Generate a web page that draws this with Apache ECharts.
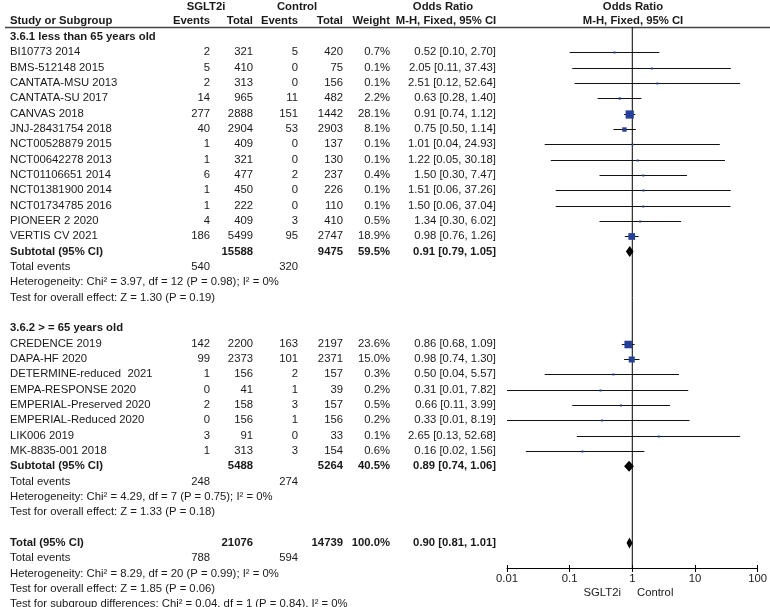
<!DOCTYPE html>
<html><head><meta charset="utf-8">
<script src="https://cdn.jsdelivr.net/npm/echarts@6/dist/echarts.min.js"></script>
<style>html,body{margin:0;padding:0;background:#fff}#c{width:770px;height:607px}</style>
</head><body><div id="c"></div>
<script>
// ---------- DATA ----------
const g1Title = '3.6.1 less than 65 years old';
const g1Study = ['BI10773 2014','BMS-512148 2015','CANTATA-MSU 2013','CANTATA-SU 2017','CANVAS 2018','JNJ-28431754 2018','NCT00528879 2015','NCT00642278 2013','NCT01106651 2014','NCT01381900 2014','NCT01734785 2016','PIONEER 2 2020','VERTIS CV 2021'];
const g1ExpEvents = [2,5,2,14,277,40,1,1,6,1,1,4,186];
const g1ExpTotal = [321,410,313,965,2888,2904,409,321,477,450,222,409,5499];
const g1CtlEvents = [5,0,0,11,151,53,0,0,2,0,0,3,95];
const g1CtlTotal = [420,75,156,482,1442,2903,137,130,237,226,110,410,2747];
const g1Weight = [0.7,0.1,0.1,2.2,28.1,8.1,0.1,0.1,0.4,0.1,0.1,0.5,18.9];
const g1OR = [0.52,2.05,2.51,0.63,0.91,0.75,1.01,1.22,1.50,1.51,1.50,1.34,0.98];
const g1Lo = [0.10,0.11,0.12,0.28,0.74,0.50,0.04,0.05,0.30,0.06,0.06,0.30,0.76];
const g1Hi = [2.70,37.43,52.64,1.40,1.12,1.14,24.93,30.18,7.47,37.26,37.04,6.02,1.26];

const g2Title = '3.6.2 > = 65 years old';
const g2Study = ['CREDENCE 2019','DAPA-HF 2020','DETERMINE-reduced  2021','EMPA-RESPONSE 2020','EMPERIAL-Preserved 2020','EMPERIAL-Reduced 2020','LIK006 2019','MK-8835-001 2018'];
const g2ExpEvents = [142,99,1,0,2,0,3,1];
const g2ExpTotal = [2200,2373,156,41,158,156,91,313];
const g2CtlEvents = [163,101,2,1,3,1,0,3];
const g2CtlTotal = [2197,2371,157,39,157,156,33,154];
const g2Weight = [23.6,15.0,0.3,0.2,0.5,0.2,0.1,0.6];
const g2OR = [0.86,0.98,0.50,0.31,0.66,0.33,2.65,0.16];
const g2Lo = [0.68,0.74,0.04,0.01,0.11,0.01,0.13,0.02];
const g2Hi = [1.09,1.30,5.57,7.82,3.99,8.19,52.68,1.56];

const subExpTotal = [15588, 5488];
const subCtlTotal = [9475, 5264];
const subWeight = [59.5, 40.5];
const subOR = [0.91, 0.89];
const subLo = [0.79, 0.74];
const subHi = [1.05, 1.06];
const subExpEvents = [540, 248];
const subCtlEvents = [320, 274];
const subHeterogeneity = ['Heterogeneity: Chi² = 3.97, df = 12 (P = 0.98); I² = 0%', 'Heterogeneity: Chi² = 4.29, df = 7 (P = 0.75); I² = 0%'];
const subOverall = ['Test for overall effect: Z = 1.30 (P = 0.19)', 'Test for overall effect: Z = 1.33 (P = 0.18)'];

const totExpTotal = 21076, totCtlTotal = 14739, totWeight = 100.0;
const totOR = 0.90, totLo = 0.81, totHi = 1.01;
const totExpEvents = 788, totCtlEvents = 594;
const totHeterogeneity = 'Heterogeneity: Chi² = 8.29, df = 20 (P = 0.99); I² = 0%';
const totOverall = 'Test for overall effect: Z = 1.85 (P = 0.06)';
const totSubgroup = 'Test for subgroup differences: Chi² = 0.04, df = 1 (P = 0.84), I² = 0%';

const tickLabels = ['0.01','0.1','1','10','100'];
const favourLabels = ['SGLT2i','Control'];

// ---------- BUILD ROWS ----------
const rows = [];
function addGroup(title, st, ee, et, ce, ct, w, or, lo, hi, k) {
  rows.push({kind:'heading', label:title});
  st.forEach((s,i)=>rows.push({kind:'study', label:s, ee:ee[i], et:et[i], ce:ce[i], ct:ct[i], w:w[i], or:or[i], lo:lo[i], hi:hi[i]}));
  rows.push({kind:'sub', label:'Subtotal (95% CI)', et:subExpTotal[k], ct:subCtlTotal[k], w:subWeight[k], or:subOR[k], lo:subLo[k], hi:subHi[k]});
  rows.push({kind:'events', label:'Total events', ee:subExpEvents[k], ce:subCtlEvents[k]});
  rows.push({kind:'text', label:subHeterogeneity[k]});
  rows.push({kind:'text', label:subOverall[k]});
  rows.push({kind:'blank'});
}
addGroup(g1Title,g1Study,g1ExpEvents,g1ExpTotal,g1CtlEvents,g1CtlTotal,g1Weight,g1OR,g1Lo,g1Hi,0);
addGroup(g2Title,g2Study,g2ExpEvents,g2ExpTotal,g2CtlEvents,g2CtlTotal,g2Weight,g2OR,g2Lo,g2Hi,1);
rows.push({kind:'sub', label:'Total (95% CI)', et:totExpTotal, ct:totCtlTotal, w:totWeight, or:totOR, lo:totLo, hi:totHi});
rows.push({kind:'events', label:'Total events', ee:totExpEvents, ce:totCtlEvents});
rows.push({kind:'text', label:totHeterogeneity});
rows.push({kind:'text', label:totOverall});
rows.push({kind:'text', label:totSubgroup});

// ---------- LAYOUT ----------
const ROW0 = 37, ROWH = 15.33, GTOP = 27, GBOT = 568;
const yMin = (GTOP - ROW0) / ROWH, yMax = (GBOT - ROW0) / ROWH;
const FONT = '"Liberation Sans", Arial, sans-serif';
const FS = 11.3;
const TXT = '#1a1a1a';
const COL = {label:10, ee:210, et:253, ce:298, ct:343, w:390, or:496};
const fmtCI = r => `${r.or.toFixed(2)} [${r.lo.toFixed(2)}, ${r.hi.toFixed(2)}]`;

function txt(t, x, y, align, bold) {
  return {type:'text', silent:true, style:{text:String(t), x:x, y:y, textAlign:align, textVerticalAlign:'middle', fill:TXT, fontSize:FS, fontFamily:FONT, fontWeight: bold ? 'bold' : 'normal'}};
}

const chart = echarts.init(document.getElementById('c'), null, {renderer:'canvas'});

const hdrY1 = 7, hdrY2 = 21;
const headerGraphics = [
  txt('SGLT2i', 206, hdrY1, 'center', true),
  txt('Control', 297, hdrY1, 'center', true),
  txt('Odds Ratio', 443, hdrY1, 'center', true),
  txt('Odds Ratio', 633, hdrY1, 'center', true),
  txt('Study or Subgroup', COL.label, hdrY2, 'left', true),
  txt('Events', COL.ee, hdrY2, 'right', true),
  txt('Total', COL.et, hdrY2, 'right', true),
  txt('Events', COL.ce, hdrY2, 'right', true),
  txt('Total', COL.ct, hdrY2, 'right', true),
  txt('Weight', COL.w, hdrY2, 'right', true),
  txt('M-H, Fixed, 95% CI', 446, hdrY2, 'center', true),
  txt('M-H, Fixed, 95% CI', 633, hdrY2, 'center', true),
  {type:'line', silent:true, shape:{x1:5, y1:27.5, x2:770, y2:27.5}, style:{stroke:'#444', lineWidth:1.5}},
  txt(favourLabels[0], 621, 593, 'right', false),
  txt(favourLabels[1], 637, 593, 'left', false)
];

const option = {
  animation:false,
  backgroundColor:'#fff',
  grid:{left:507, right:10, top:GTOP, bottom:607-GBOT, containLabel:false},
  xAxis:[
    {type:'log', logBase:10, min:0.01, max:100, position:'bottom',
     axisLine:{show:true, onZero:false, lineStyle:{color:'#000', width:1}},
     axisTick:{show:true, inside:false, length:4, lineStyle:{color:'#000'}},
     axisLabel:{show:true, margin:5, fontSize:FS, fontFamily:FONT, color:TXT,
       formatter: v => tickLabels[Math.round(Math.log10(v)) + 2]},
     splitLine:{show:false}, minorTick:{show:false}},
    {type:'log', logBase:10, min:0.01, max:100, position:'bottom', offset:0,
     axisLine:{show:false, onZero:false}, axisTick:{show:true, inside:true, length:3, lineStyle:{color:'#000'}},
     axisLabel:{show:false}, splitLine:{show:false}}
  ],
  yAxis:{type:'value', inverse:true, min:yMin, max:yMax, show:false, splitLine:{show:false}},
  graphic: headerGraphics,
  series:[
    {type:'line', xAxisIndex:0, data:[[1,yMin],[1,yMax]], symbol:'none', lineStyle:{color:'#000', width:1}, silent:true, z:1},
    {type:'custom', xAxisIndex:0, clip:false, z:3,
     data: rows.map((r,i)=>[1,i]),
     renderItem: function(params, api) {
       const i = params.dataIndex, r = rows[i];
       const y = api.coord([1, i])[1];
       const ch = [];
       if (r.kind === 'heading') ch.push(txt(r.label, COL.label, y, 'left', true));
       else if (r.kind === 'text') ch.push(txt(r.label, COL.label, y, 'left', false));
       else if (r.kind === 'events') {
         ch.push(txt(r.label, COL.label, y, 'left', false));
         ch.push(txt(r.ee, COL.ee, y, 'right', false));
         ch.push(txt(r.ce, COL.ce, y, 'right', false));
       } else if (r.kind === 'study') {
         ch.push(txt(r.label, COL.label, y, 'left', false));
         ch.push(txt(r.ee, COL.ee, y, 'right', false));
         ch.push(txt(r.et, COL.et, y, 'right', false));
         ch.push(txt(r.ce, COL.ce, y, 'right', false));
         ch.push(txt(r.ct, COL.ct, y, 'right', false));
         ch.push(txt(r.w.toFixed(1)+'%', COL.w, y, 'right', false));
         ch.push(txt(fmtCI(r), COL.or, y, 'right', false));
         const a = api.coord([r.lo, i]), b = api.coord([r.hi, i]), c = api.coord([r.or, i]);
         const yy = Math.round(y) + 0.5;
         ch.push({type:'line', shape:{x1:a[0], y1:yy, x2:b[0], y2:yy}, style:{stroke:'#111', lineWidth:1}});
         const s = Math.max(2, 1.55*Math.sqrt(r.w));
         ch.push({type:'rect', shape:{x:c[0]-s/2, y:yy-s/2, width:s, height:s}, style:{fill:'#23409c'}});
       } else if (r.kind === 'sub') {
         ch.push(txt(r.label, COL.label, y, 'left', true));
         ch.push(txt(r.et, COL.et, y, 'right', true));
         ch.push(txt(r.ct, COL.ct, y, 'right', true));
         ch.push(txt(r.w.toFixed(1)+'%', COL.w, y, 'right', true));
         ch.push(txt(fmtCI(r), COL.or, y, 'right', true));
         const a = api.coord([r.lo, i]), b = api.coord([r.hi, i]), c = api.coord([r.or, i]);
         ch.push({type:'polygon', shape:{points:[[a[0],y],[c[0],y-5.5],[b[0],y],[c[0],y+5.5]]}, style:{fill:'#000'}});
       }
       return {type:'group', children:ch};
     }}
  ]
};
chart.setOption(option);
</script>
</body></html>
